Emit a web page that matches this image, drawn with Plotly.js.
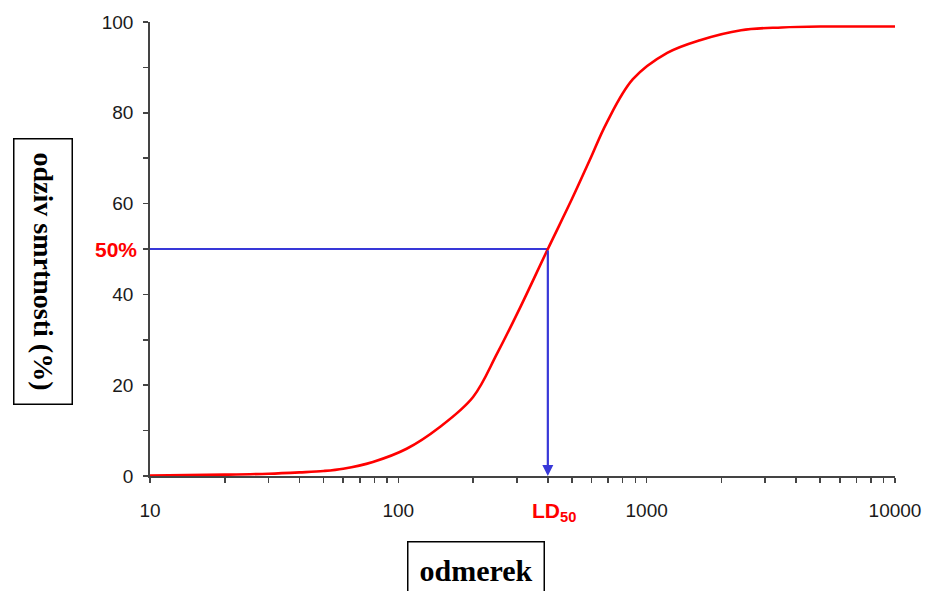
<!DOCTYPE html>
<html>
<head>
<meta charset="utf-8">
<script src="https://cdn.plot.ly/plotly-3.0.1.min.js"></script>
<style>html,body{margin:0;padding:0;background:#fff;}#chart{width:928px;height:591px;}</style>
</head>
<body>
<div id="chart"></div>
<script>
// Dose (odmerek) and mortality response (%)
var dose = [10, 20, 30, 40, 50, 60, 79, 108, 147, 200, 250, 310, 400, 500, 590, 690, 880, 1210, 1640, 2400, 3500, 5000, 7000, 10000];
var response = [0.1, 0.3, 0.5, 0.8, 1.1, 1.6, 3.1, 6.0, 10.8, 17.4, 27, 37.2, 50, 61, 69.6, 77.8, 87.4, 93.2, 96, 98.2, 98.8, 99, 99, 99];
var ld50 = 400;
var ld50Response = 50;

var xTickVals = [10,20,30,40,50,60,70,80,90,100,200,300,400,500,600,700,800,900,1000,2000,3000,4000,5000,6000,7000,8000,9000,10000];
var xTickText = xTickVals.map(function(v){ return [10,100,1000,10000].indexOf(v) >= 0 ? String(v) : ''; });
var yTickVals = [0,10,20,30,40,50,60,70,80,90,100];
var yTickText = yTickVals.map(function(v){ return v % 20 === 0 ? String(v) : ''; });

var blue = '#3838d8';
var red = '#ff0000';

var traces = [
  {x: [dose[0], ld50], y: [ld50Response, ld50Response], mode: 'lines', line: {color: blue, width: 2.2}, hoverinfo: 'skip', cliponaxis: false},
  {x: dose, y: response, mode: 'lines', line: {color: red, width: 2.6, shape: 'spline', smoothing: 1}, cliponaxis: false}
];

var layout = {
  width: 928, height: 591,
  margin: {l: 150, r: 33, t: 22, b: 115},
  paper_bgcolor: '#fff', plot_bgcolor: '#fff',
  showlegend: false,
  font: {family: 'Liberation Sans, Arial, sans-serif', color: '#1a1a1a', size: 19},
  xaxis: {
    type: 'log', range: [1, 4],
    tickvals: xTickVals, ticktext: xTickText,
    ticks: 'outside', ticklen: 5, tickwidth: 1.5, tickcolor: '#444',
    showline: true, linecolor: '#444', linewidth: 1.8,
    showgrid: false, zeroline: false,
    tickfont: {size: 19, color: '#1a1a1a'},
    ticklabelstandoff: 11
  },
  yaxis: {
    range: [0, 100],
    tickvals: yTickVals, ticktext: yTickText,
    ticks: 'outside', ticklen: 5, tickwidth: 1.5, tickcolor: '#444',
    showline: true, linecolor: '#444', linewidth: 1.8,
    showgrid: false, zeroline: false,
    tickfont: {size: 19, color: '#1a1a1a'},
    ticklabelstandoff: 6
  },
  annotations: [
    {x: Math.log10(ld50), y: 0, ax: Math.log10(ld50), ay: ld50Response, axref: 'x', ayref: 'y', xref: 'x', yref: 'y',
     text: '', showarrow: true, arrowhead: 2, arrowsize: 1, arrowwidth: 2.2, arrowcolor: blue, standoff: 0},
    {x: 0, xref: 'paper', xanchor: 'right', xshift: -11, y: ld50Response, yref: 'y', yanchor: 'middle',
     text: '<b>50%</b>', showarrow: false, font: {color: red, size: 21, family: 'Liberation Sans, Arial, sans-serif'}},
    {x: Math.log10(ld50), xref: 'x', xanchor: 'center', xshift: 6, y: 0, yref: 'y', yanchor: 'top', yshift: -21,
     text: '<b>LD<sub>50</sub></b>', showarrow: false, font: {color: red, size: 21, family: 'Liberation Sans, Arial, sans-serif'}},
    {x: 0.5, xref: 'paper', y: 0, yref: 'paper', xanchor: 'center', yanchor: 'middle', showarrow: false,
     text: '<b>odmerek</b>', font: {family: 'Liberation Serif, Times New Roman, serif', size: 30, color: '#000'},
     bordercolor: '#000', borderwidth: 1.5, borderpad: 11, bgcolor: '#fff'},
    {x: 0, xref: 'paper', y: 0, yref: 'paper', xanchor: 'center', yanchor: 'middle', showarrow: false, textangle: 90,
     text: '<b>odziv smrtnosti (%)</b>', font: {family: 'Liberation Serif, Times New Roman, serif', size: 28, color: '#000'},
     bordercolor: '#000', borderwidth: 1.5, borderpad: 13, bgcolor: '#fff'}
  ]
};

// position the boxed titles in pixels relative to the plot area
var plotW = 928 - 150 - 33, plotH = 591 - 22 - 115;
layout.annotations[3].x = (476 - 150) / plotW;
layout.annotations[3].y = (476 - 570) / plotH;
layout.annotations[4].x = (43 - 150) / plotW;
layout.annotations[4].y = (476 - 271) / plotH;

Plotly.newPlot('chart', traces, layout, {displayModeBar: false, staticPlot: true});
</script>
</body>
</html>
